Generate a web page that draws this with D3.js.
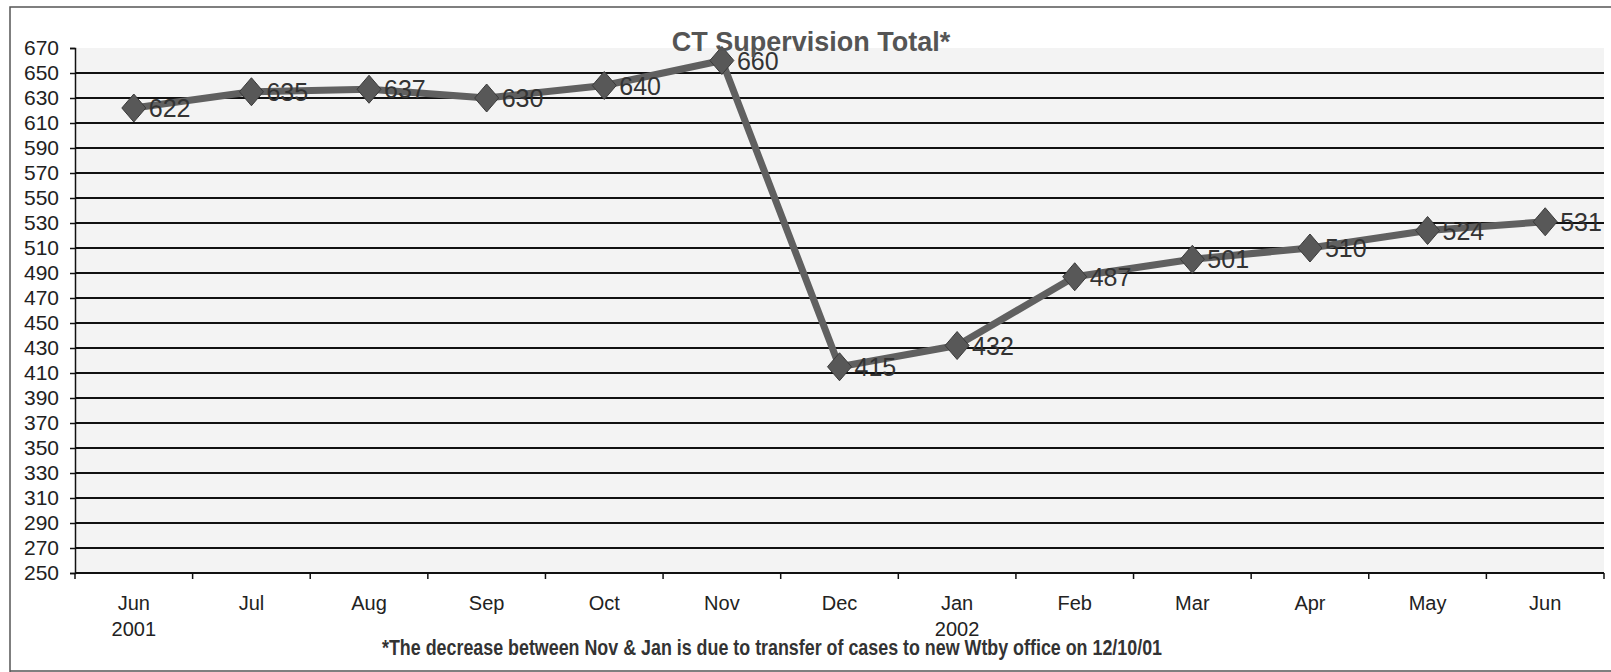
<!DOCTYPE html>
<html>
<head>
<meta charset="utf-8">
<script src="https://cdn.jsdelivr.net/npm/d3@7"></script>
<style>
  html, body { margin: 0; padding: 0; background: #fff; }
  svg { display: block; font-family: "Liberation Sans", Arial, sans-serif; }
</style>
</head>
<body>
<div id="chart"></div>
<script>
// Data
var months = ["Jun", "Jul", "Aug", "Sep", "Oct", "Nov", "Dec", "Jan", "Feb", "Mar", "Apr", "May", "Jun "];
var years = ["2001", "", "", "", "", "", "", "2002", "", "", "", "", ""];
var totals = [622, 635, 637, 630, 640, 660, 415, 432, 487, 501, 510, 524, 531];
var yTicks = d3.range(250, 671, 20);

var title = "CT Supervision Total*";
var footnote = "*The decrease between Nov & Jan is due to transfer of cases to new Wtby office on 12/10/01";

// Dimensions
var width = 1611, height = 672;
var margin = { top: 48, right: 7, bottom: 99, left: 75 };
var innerWidth = width - margin.left - margin.right;
var innerHeight = height - margin.top - margin.bottom;

var svg = d3.select("#chart")
    .append("svg")
    .attr("width", width)
    .attr("height", height);

// Outer border of the scanned chart
svg.append("path")
    .attr("d", "M10,672 L10,7 L1611,7 M10,671 L1611,671")
    .attr("fill", "none")
    .attr("stroke", "#555")
    .attr("stroke-width", 1.5);

var g = svg.append("g")
    .attr("transform", `translate(${margin.left}, ${margin.top})`);

// Scales
var x = d3.scaleBand()
    .domain(months)
    .range([0, innerWidth]);

var y = d3.scaleLinear()
    .domain([250, 670])
    .range([innerHeight, 0]);

// Plot area background (light speckled grey in the scan)
g.append("rect")
    .attr("width", innerWidth)
    .attr("height", innerHeight)
    .attr("fill", "#f3f3f3");

// Horizontal gridlines
g.append("g")
    .selectAll("line")
    .data(yTicks.filter(d => d > 250 && d < 670))
    .join("line")
    .attr("x1", 0)
    .attr("x2", innerWidth)
    .attr("y1", d => y(d))
    .attr("y2", d => y(d))
    .attr("stroke", "#111")
    .attr("stroke-width", 1.8);

// Y axis
var yAxis = g.append("g")
    .call(d3.axisLeft(y).tickValues(yTicks).tickSize(5).tickPadding(11));
yAxis.select(".domain").attr("stroke", "#111").attr("stroke-width", 1.5);
yAxis.selectAll("line").attr("stroke", "#111").attr("stroke-width", 1.5);
yAxis.selectAll("text")
    .attr("fill", "#222")
    .style("font-size", "21px");

// X axis: ticks between categories, labels centred
var xAxisG = g.append("g")
    .attr("transform", `translate(0, ${innerHeight})`);
xAxisG.append("line")
    .attr("x1", 0).attr("x2", innerWidth)
    .attr("stroke", "#111").attr("stroke-width", 1.8);
xAxisG.selectAll(".tk")
    .data(months.concat(["end"]))
    .join("line")
    .attr("class", "tk")
    .attr("x1", (d, i) => i * x.step())
    .attr("x2", (d, i) => i * x.step())
    .attr("y1", 0).attr("y2", 6)
    .attr("stroke", "#111").attr("stroke-width", 1.5);
xAxisG.selectAll(".mlab")
    .data(months)
    .join("text")
    .attr("class", "mlab")
    .attr("x", d => x(d) + x.bandwidth() / 2)
    .attr("y", 37)
    .attr("text-anchor", "middle")
    .attr("fill", "#222")
    .style("font-size", "20px")
    .text(d => d.trim());
xAxisG.selectAll(".ylab")
    .data(years)
    .join("text")
    .attr("class", "ylab")
    .attr("x", (d, i) => x(months[i]) + x.bandwidth() / 2)
    .attr("y", 63)
    .attr("text-anchor", "middle")
    .attr("fill", "#222")
    .style("font-size", "20px")
    .text(d => d);

// Line
var line = d3.line()
    .x((d, i) => x(months[i]) + x.bandwidth() / 2)
    .y(d => y(d));

g.append("path")
    .datum(totals)
    .attr("d", line)
    .attr("fill", "none")
    .attr("stroke", "#606060")
    .attr("stroke-width", 7)
    .attr("stroke-linejoin", "round");

// Diamond markers
g.selectAll(".mk")
    .data(totals)
    .join("path")
    .attr("class", "mk")
    .attr("transform", (d, i) => `translate(${x(months[i]) + x.bandwidth() / 2}, ${y(d)})`)
    .attr("d", "M0,-14 L12,0 L0,14 L-12,0 Z")
    .attr("fill", "#585858")
    .attr("stroke", "#3a3a3a")
    .attr("stroke-width", 1);

// Data labels
g.selectAll(".dl")
    .data(totals)
    .join("text")
    .attr("class", "dl")
    .attr("x", (d, i) => x(months[i]) + x.bandwidth() / 2 + 15)
    .attr("y", d => y(d) + 9)
    .attr("fill", "#333")
    .style("font-size", "25px")
    .text(d => d);

// Title
svg.append("text")
    .attr("x", 811)
    .attr("y", 51)
    .attr("text-anchor", "middle")
    .attr("fill", "#555")
    .style("font-size", "27px")
    .style("font-weight", "bold")
    .text(title);

// Footnote
svg.append("text")
    .attr("x", 772)
    .attr("y", 655)
    .attr("text-anchor", "middle")
    .attr("fill", "#333")
    .style("font-size", "22px")
    .style("font-weight", "bold")
    .attr("textLength", 780)
    .attr("lengthAdjust", "spacingAndGlyphs")
    .text(footnote);
</script>
</body>
</html>
